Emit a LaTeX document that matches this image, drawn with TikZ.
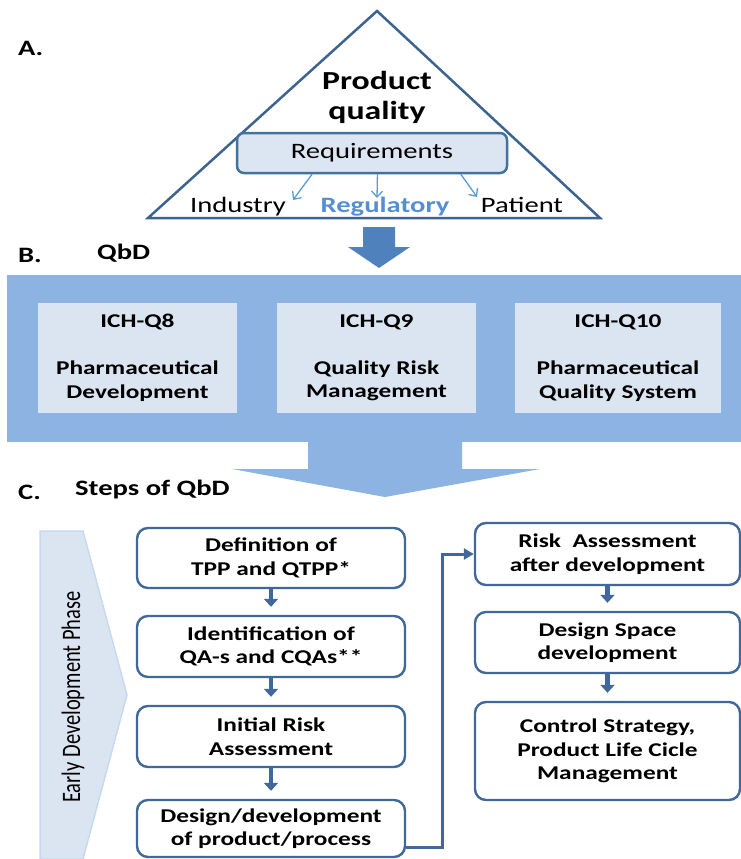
\documentclass[tikz,border=0pt]{standalone}
\usepackage{fontspec}
\setmainfont[FakeStretch=1.3]{Carlito}
\newfontfamily\plainfont{Carlito}
\usetikzlibrary{arrows.meta,calc}
\definecolor{tri}{HTML}{3D6390}
\definecolor{reqfill}{HTML}{DCE6F2}
\definecolor{reqline}{HTML}{41719C}
\definecolor{band}{HTML}{8DB3E2}
\definecolor{boxfill}{HTML}{DBE5F1}
\definecolor{darkarrow}{HTML}{4F81BD}
\definecolor{stepline}{HTML}{41689A}
\definecolor{regblue}{HTML}{558ED5}
\definecolor{thinarrow}{HTML}{5B9BD5}
\definecolor{phase}{HTML}{DBE5F1}
\definecolor{phaseline}{HTML}{C6D9F1}
\begin{document}
\begin{tikzpicture}[x=1pt,y=-1pt,
  hdr/.style={anchor=west,inner sep=0pt,font=\bfseries\fontsize{22}{26}\selectfont},
  lab/.style={anchor=base,inner sep=0pt,font=\fontsize{22}{26}\selectfont},
  qbox/.style={fill=boxfill,minimum height=110pt,inner sep=0pt,align=center,
    font=\bfseries\fontsize{19.5}{23.5}\selectfont},
  stepbox/.style={draw=stepline,line width=2.4pt,rounded corners=11pt,fill=white,
    minimum width=268pt,align=center,inner sep=0pt,
    font=\bfseries\fontsize{19.5}{23.5}\selectfont},
  rstep/.style={stepbox,minimum width=265pt},
  smallarrow/.style={draw=stepline,line width=4.5pt,shorten >=8pt,
    -{Triangle[width=14pt,length=8pt]}},
  reqarrow/.style={draw=thinarrow,line width=1.3pt,-{Straight Barb[length=6pt,width=11pt]}},
  conn/.style={draw=stepline,line width=3pt,-{Triangle[width=11pt,length=10pt]}}
]
\useasboundingbox (0,0) rectangle (741,859);

% ---------- A ----------
\node[hdr] (la) at (18,48) {A.};
\draw[tri,line width=2.5pt,line join=miter] (377,11) -- (600,218) -- (148,218) -- cycle;
\node[align=center,inner sep=0pt,font=\bfseries\fontsize{26}{30}\selectfont] (pq) at (377,97) {Product\\quality};
\node[draw=reqline,fill=reqfill,line width=2.5pt,rounded corners=7pt,
  minimum width=270pt,minimum height=40pt,inner sep=0pt,
  font=\fontsize{22}{26}\selectfont] (req) at (372,153) {Requirements};
\node[lab] (ind) at (238,212) {Industry};
\node[lab,text=regblue,font=\bfseries\fontsize{22}{26}\selectfont] (reg) at (385,212) {Regulatory};
\node[lab] (pat) at (522,212) {Patient};
\coordinate (a1) at (293,200);
\coordinate (a2) at (377,198);
\coordinate (a3) at (477,197);
\draw[reqarrow] ($(req.south west)!0.28!(req.south east)$) -- (a1);
\draw[reqarrow] ($(req.south west)!0.52!(req.south east)$) -- (a2);
\draw[reqarrow] ($(req.south west)!0.826!(req.south east)$) -- (a3);
\fill[darkarrow] (363,227) -- (395,227) -- (395,247) -- (410,247) -- (379,268)
  -- (348,247) -- (363,247) -- cycle;

% ---------- B ----------
\node[hdr] (lb) at (18,255) {B.};
\node[hdr] (qbd) at (97,253) {QbD};
\fill[band] (7,275) rectangle (741,442);
\fill[band] (308,441) -- (462,441) -- (462,469) -- (540,469) -- (385,497)
  -- (232,469) -- (308,469) -- cycle;
\node[qbox,minimum width=199pt] (q8) at (137.5,358) {ICH-Q8\\[23.5pt]Pharmaceutical\\Development};
\node[qbox,minimum width=199pt] (q9) at (376.5,358) {ICH-Q9\\[23.5pt]Quality Risk\\Management};
\node[qbox,minimum width=206pt] (q10) at (618,358) {ICH-Q10\\[23.5pt]Pharmaceutical\\Quality System};

% ---------- C ----------
\node[hdr] (lc) at (18,492) {C.};
\node[hdr] (steps) at (75,490) {Steps of QbD};
\filldraw[fill=phase,draw=phaseline,line width=1.5pt] (40,531) -- (83,531) -- (127,695)
  -- (83,859) -- (40,859) -- cycle;
\node[rotate=90,inner sep=0pt,font=\plainfont\fontsize{20.5}{24}\selectfont] (edp) at (73,697)
  {\scalebox{1}[1.3]{Early Development Phase}};

\node[stepbox,minimum height=60pt] (l1) at (271,558) {Definition of\\TPP and QTPP*};
\node[stepbox,minimum height=61pt] (l2) at (271,646.5) {Identification of\\QA-s and CQAs**};
\node[stepbox,minimum height=61pt] (l3) at (271,736.5) {Initial Risk\\Assessment};
\node[stepbox,minimum height=57pt] (l4) at (271,828.5) {Design/development\\of product/process};

\node[rstep,minimum height=62pt] (r1) at (607.5,554) {Risk~~Assessment\\after development};
\node[rstep,minimum height=61pt] (r2) at (607.5,642.5) {Design Space\\development};
\node[rstep,minimum height=98pt] (r3) at (607.5,751) {Control Strategy,\\Product Life Cicle\\Management};

\draw[smallarrow] (l1.south) -- (l2.north);
\draw[smallarrow] (l2.south) -- (l3.north);
\draw[smallarrow] (l3.south) -- (l4.north);
\draw[smallarrow] (r1.south) -- (r2.north);
\draw[smallarrow] (r2.south) -- (r3.north);

\coordinate (cc) at (442,847);
\draw[conn] (l4.east |- cc) -- (cc) |- (r1.west);
\end{tikzpicture}
\end{document}
